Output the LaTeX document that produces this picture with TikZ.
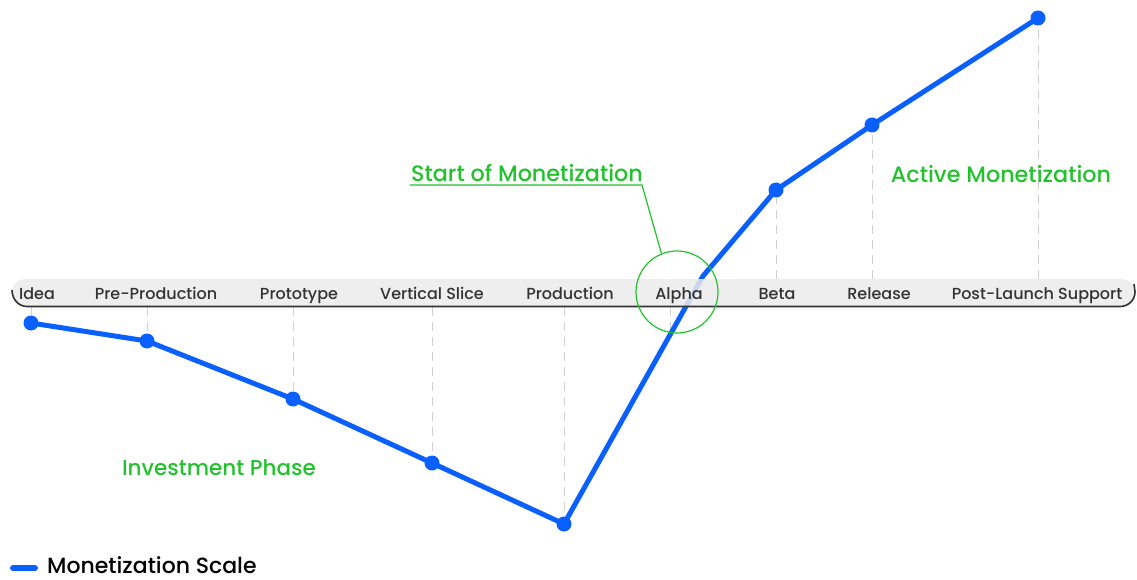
\documentclass[tikz,border=0pt]{standalone}
\usepackage{fontspec}
\setmainfont{Poppins}
\newfontfamily\pmed{Poppins Medium}
\definecolor{scaleblue}{HTML}{0A5FFF}
\definecolor{phasegreen}{HTML}{22C22C}
\definecolor{barfill}{HTML}{EBEBEB}
\definecolor{barline}{HTML}{333333}
\definecolor{guide}{HTML}{D0D0D0}
\definecolor{labelgray}{HTML}{333333}
\begin{document}
\begin{tikzpicture}[x=1pt,y=-1pt,
  stage/.style={font=\pmed\fontsize{16}{16}\selectfont, text=labelgray, inner sep=0pt, anchor=base},
  phase/.style={font=\pmed\fontsize{22.3}{22.3}\selectfont, text=phasegreen, inner sep=0pt},
  guideline/.style={draw=guide, line width=1pt, dash pattern=on 9pt off 6pt},
  curve/.style={draw=scaleblue, line width=5pt, line join=round, line cap=round},
  dot/.style={circle, fill=scaleblue, minimum size=15pt, inner sep=0pt}]
\useasboundingbox (0,0) rectangle (1137,580);

% data points of the monetization scale
\node[dot] (idea) at (31,323) {};
\node[dot] (pre) at (147,341) {};
\node[dot] (proto) at (293,399) {};
\node[dot] (slice) at (432,463) {};
\node[dot] (prod) at (564,524) {};
\coordinate (alpha) at (703,276);
\node[dot] (beta) at (776,190) {};
\node[dot] (rel) at (872,125) {};
\node[dot] (post) at (1038,18) {};

% guide lines from the timeline to each point
\coordinate (gIdea) at (31,307);
\coordinate (gPre) at (147,307);
\coordinate (gProto) at (293,307);
\coordinate (gSlice) at (432,307);
\coordinate (gProd) at (564,307);
\coordinate (gAlphaA) at (670,307);
\coordinate (gAlphaB) at (670,335);
\coordinate (gBeta) at (776,279);
\coordinate (gRel) at (872,279);
\coordinate (gPost) at (1038,279);
\draw[guideline] (gIdea) -- (idea);
\draw[guideline] (gPre) -- (pre);
\draw[guideline] (gProto) -- (proto);
\draw[guideline] (gSlice) -- (slice);
\draw[guideline] (gProd) -- (prod);
\draw[guideline] (gAlphaA) -- (gAlphaB);
\draw[guideline] (gBeta) -- (beta);
\draw[guideline] (gRel) -- (rel);
\draw[guideline] (gPost) -- (post);

% the scale curve
\draw[curve] (idea.center) -- (pre.center) -- (proto.center) -- (slice.center)
  -- (prod.center) -- (alpha) -- (beta.center) -- (rel.center) -- (post.center);

% timeline bar
\fill[barfill, opacity=0.85, rounded corners=13pt] (12,279) rectangle (1135,307);
\draw[barline, line width=1.6pt] (12,290) to[out=-90,in=180] (27,306.5)
  -- (1120,306.5) to[out=0,in=-90] (1135,292) -- (1134,284);

% stage labels
\node[stage] (lIdea) at (37,299) {Idea};
\node[stage] (lPre) at (156,299) {Pre-Production};
\node[stage] (lProto) at (299,299) {Prototype};
\node[stage] (lSlice) at (432,299) {Vertical Slice};
\node[stage] (lProd) at (570,299) {Production};
\node[stage] (lAlpha) at (679,299) {Alpha};
\node[stage] (lBeta) at (777,299) {Beta};
\node[stage] (lRel) at (879,299) {Release};
\node[stage] (lPost) at (1037,299) {Post-Launch Support};

% start of monetization marker
\node[circle, draw=phasegreen, line width=1.2pt, minimum size=82pt, inner sep=0pt] (ring) at (677,292) {};
\node[phase, anchor=south] (start) at (527,182) {Start of Monetization};
\coordinate (kneeA) at (642,185);
\coordinate (kneeB) at (410,185);
\draw[phasegreen, line width=1.2pt] (ring.112) -- (kneeA) -- (kneeB);

% phase labels
\node[phase] (active) at (1001,174) {Active Monetization};
\node[phase, font=\pmed\fontsize{21.5}{21.5}\selectfont] (invest) at (219,468) {Investment Phase};

% legend
\coordinate (legA) at (13,568);
\coordinate (legB) at (35,568);
\draw[curve, line width=6pt] (legA) -- (legB);
\node[font=\pmed\fontsize{22}{22}\selectfont, text=black, anchor=base west, inner sep=0pt, text depth=0pt] (legend) at (47,573) {Monetization Scale};
\end{tikzpicture}
\end{document}
